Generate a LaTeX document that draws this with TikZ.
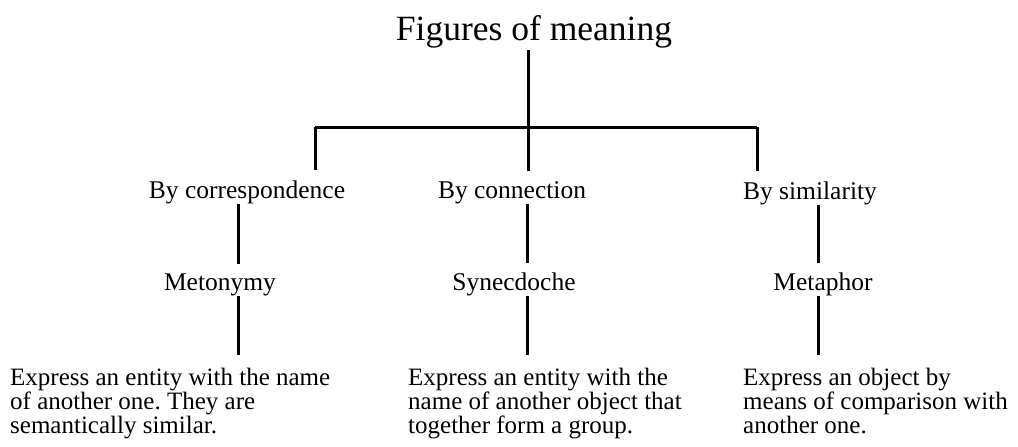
\documentclass[tikz,border=0pt]{standalone}
\usepackage{fontspec}
\setmainfont{Liberation Serif}
\usetikzlibrary{positioning}
\tikzset{
headtxt/.style={inner sep=0pt,font=\fontsize{35.5}{38}\selectfont},
figtxt/.style={inner sep=0pt,font=\fontsize{25.5}{28}\selectfont},
leaftxt/.style={inner sep=0pt,align=left,anchor=north west,font=\fontsize{25}{24}\selectfont},
treeline/.style={line width=3pt}
}
\frenchspacing

\begin{document}
\begin{tikzpicture}[x=1pt,y=-1pt]
\useasboundingbox (0,0) rectangle (1018,447);

\node[headtxt,anchor=base](Fig) at (534,40){Figures of meaning};

\node[figtxt,anchor=base](Corr) at (247,198){By correspondence};
\node[figtxt,anchor=base](Conn) at (512,198){By connection};
\node[figtxt,anchor=base](Sim) at (810,199){By similarity};

\node[figtxt,anchor=base](Meto) at (220,290){Metonymy};
\node[figtxt,anchor=base](Syne) at (514,290){Synecdoche};
\node[figtxt,anchor=base](Meta) at (823,290){Metaphor};

\node[leaftxt](MetoTxt) at (10,368){Express an entity with the name\\of another one. They are\\semantically similar.};
\node[leaftxt](SyneTxt) at (408,368){Express an entity with the\\name of another object that\\together form a group.};
\node[leaftxt](MetaTxt) at (743,368){Express an object by\\means of comparison with\\another one.};

% the bar under the title
\coordinate (barL) at (315,127);
\coordinate (barM) at (528,127);
\coordinate (barR) at (757,127);
% x of the lower links
\coordinate (linkL) at (238,0);
\coordinate (linkM) at (527,0);
\coordinate (linkR) at (818,0);

\draw[treeline,shorten <=2pt] (Fig.south -| barM) -- (barM);
\draw[treeline] (barL) -- (barR);
\draw[treeline,shorten >=10pt] (barL) -- (Corr.north -| barL);
\draw[treeline,shorten >=10pt] (barM) -- (Conn.north -| barM);
\draw[treeline,shorten >=10pt] (barR) -- (Sim.north -| barR);

\draw[treeline,shorten >=9pt] (Corr.south -| linkL) -- (Meto.north -| linkL);
\draw[treeline,shorten >=9pt] (Conn.south -| linkM) -- (Syne.north -| linkM);
\draw[treeline,shorten >=9pt] (Sim.south -| linkR) -- (Meta.north -| linkR);

\draw[treeline,shorten >=13pt] (Meto.south -| linkL) -- (MetoTxt.north -| linkL);
\draw[treeline,shorten >=13pt] (Syne.south -| linkM) -- (SyneTxt.north -| linkM);
\draw[treeline,shorten >=13pt] (Meta.south -| linkR) -- (MetaTxt.north -| linkR);

\end{tikzpicture}
\end{document}
